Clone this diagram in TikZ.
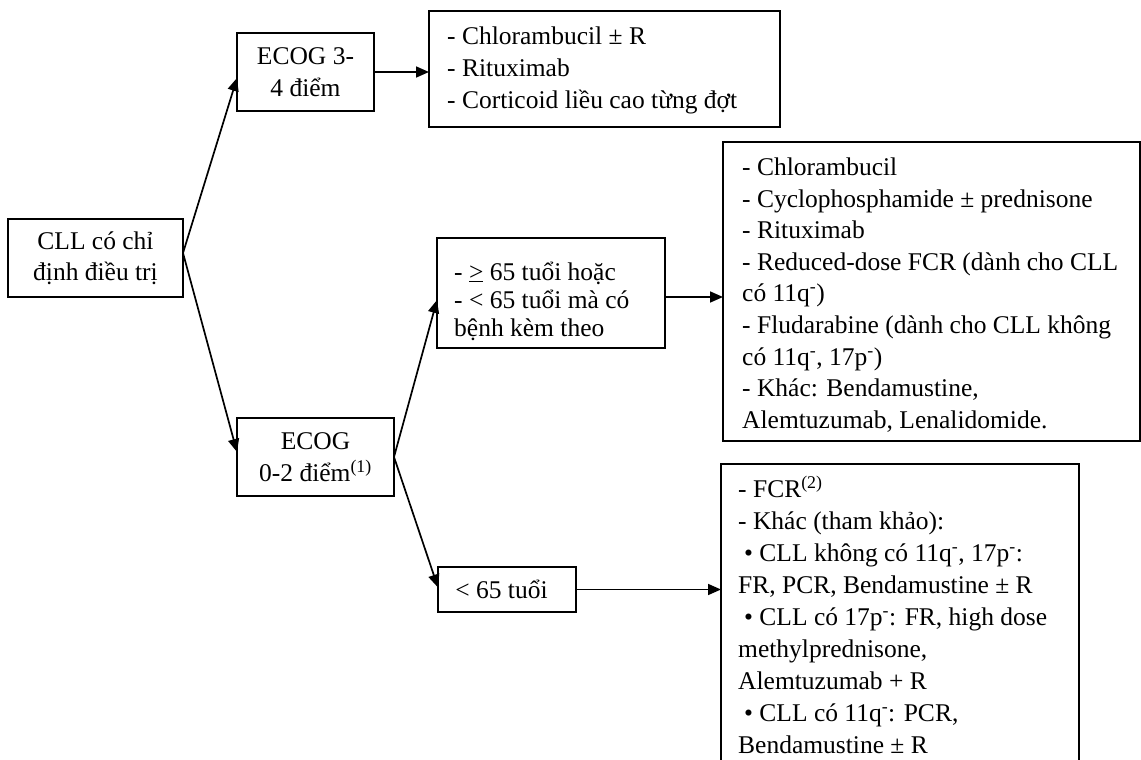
\documentclass[tikz,border=0pt]{standalone}
\usepackage{fontspec}
\setmainfont{Liberation Serif}
\usetikzlibrary{arrows.meta}
\tikzset{
  box/.style={draw, line width=1.8pt, inner sep=0pt, outer sep=0pt, align=center},
  label/.style={inner sep=0pt, align=left, anchor=west},
  link/.style={line width=1.7pt, -{Triangle[length=13pt,width=11pt]}},
}
\newcommand{\minus}{\textsuperscript{-}}
\begin{document}
\begin{tikzpicture}[x=1pt, y=-1pt, font=\fontsize{25.5}{32}\selectfont]
\useasboundingbox (0,0) rectangle (1141,760);
\clip (0,0) rectangle (1141,760);

% decision boxes
\node[box, minimum width=175pt, minimum height=78pt,
      font=\fontsize{25.5}{31}\selectfont] (cll) at (95.5,258)
  {CLL có chỉ\\định điều trị};
\node[box, minimum width=137pt, minimum height=78pt] (e34) at (305.5,72)
  {ECOG 3-\\4 điểm};
\node[box, minimum width=157pt, minimum height=78pt] (e02) at (315.5,457)
  {ECOG\\0-2 điểm\textsuperscript{(1)}};
\node[box, minimum width=228pt, minimum height=110pt] (old) at (551,293) {};
\node[label, font=\fontsize{25.5}{28}\selectfont] (oldtext) at (454,301)
  {- \underline{>} 65 tuổi hoặc\\- < 65 tuổi mà có\\bệnh kèm theo};
\node[box, minimum width=138pt, minimum height=45pt] (young) at (507,589.5) {};
\node[inner sep=0pt] (youngtext) at (501.5,589.5) {< 65 tuổi};

% treatment boxes
\node[box, minimum width=351pt, minimum height=116pt] (r1) at (604.5,69) {};
\node[label] (r1text) at (447,70)
  {- Chlorambucil ± R\\- Rituximab\\- Corticoid liều cao từng đợt};

\node[box, minimum width=417pt, minimum height=299pt] (r2) at (931.5,291.5) {};
\node[label, font=\fontsize{25.5}{31.6}\selectfont] (r2text) at (742,295)
  {- Chlorambucil\\
   - Cyclophosphamide ± prednisone\\
   - Rituximab\\
   - Reduced-dose FCR (dành cho CLL\\
   có 11q\minus)\\
   - Fludarabine (dành cho CLL không\\
   có 11q\minus, 17p\minus)\\
   - Khác: Bendamustine,\\
   Alemtuzumab, Lenalidomide.};

% open at the lower edge of the page
\node[box, minimum width=358pt, minimum height=320pt] (r3) at (900,624) {};
\node[label] (r3text) at (738,615)
  {- FCR\textsuperscript{(2)}\\
   - Khác (tham khảo):\\
   \hspace*{6pt}• CLL không có 11q\minus, 17p\minus:\\
   FR, PCR, Bendamustine ± R\\
   \hspace*{6pt}• CLL có 17p\minus: FR, high dose\\
   methylprednisone,\\
   Alemtuzumab + R\\
   \hspace*{6pt}• CLL có 11q\minus: PCR,\\
   Bendamustine ± R};

% connectors
\coordinate (cllout) at ([shift={(0,-5)}]cll.east);
\draw[link] (cllout) -- ([shift={(0,6)}]e34.west);
\draw[link] (cllout) -- ([shift={(0,-5)}]e02.west);
\draw[link] (e34.east) -- (e34.east -| r1.west);
\draw[link] (e02.east) -- ([shift={(0,7)}]old.west);
\draw[link] (e02.east) -- ([shift={(0,-2)}]young.west);
\coordinate (oldout) at ([shift={(0,4)}]old.east);
\draw[link] (oldout) -- (oldout -| r2.west);
\draw[link] (young.east) -- (young.east -| r3.west);
\end{tikzpicture}
\end{document}
